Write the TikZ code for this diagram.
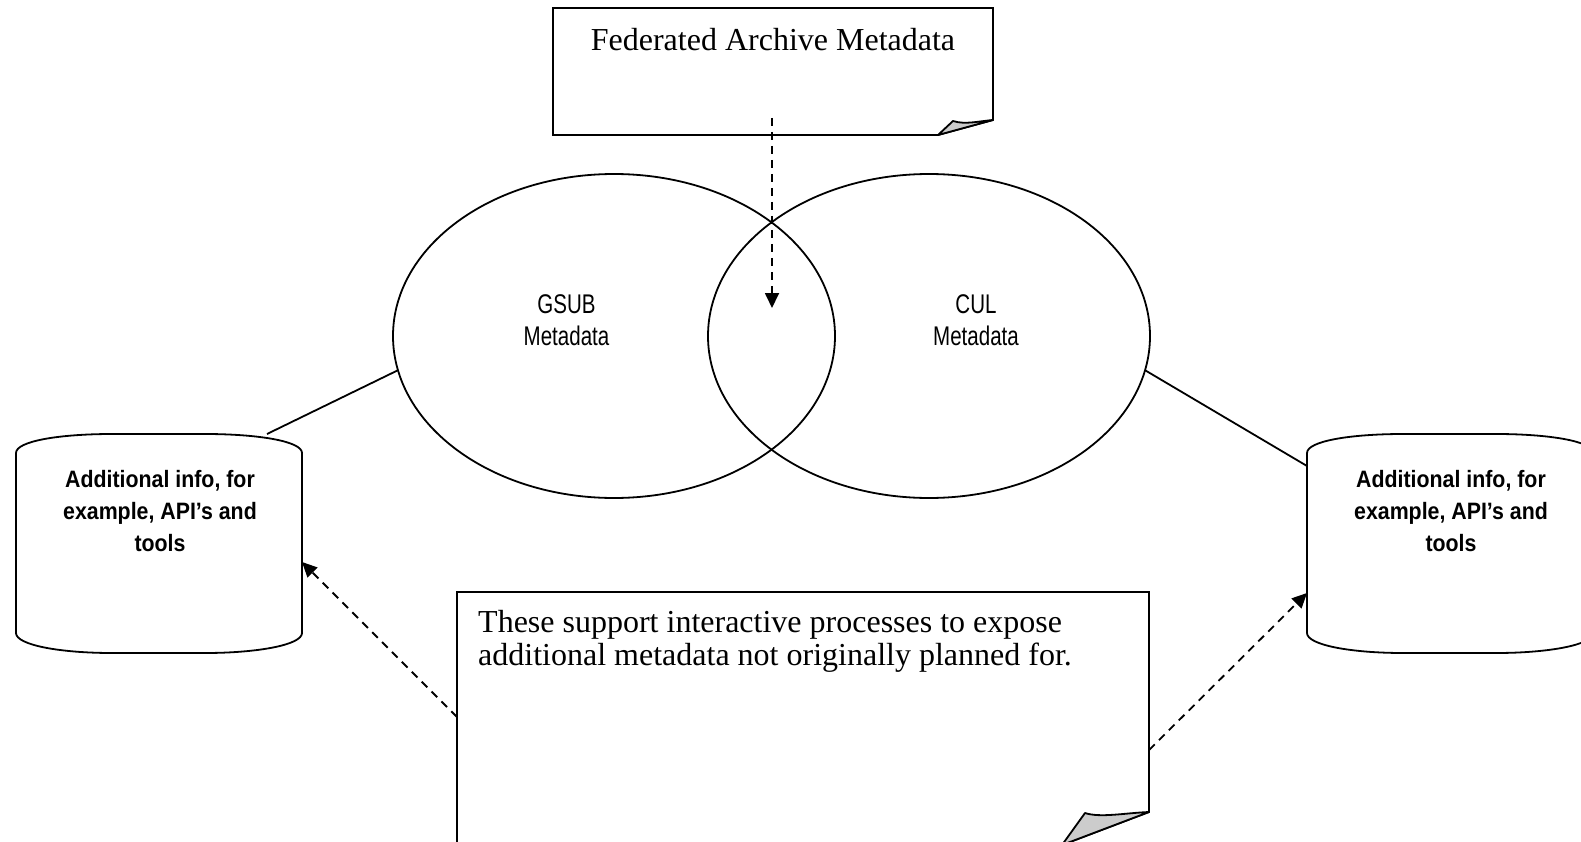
\documentclass[tikz,border=0pt]{standalone}
\usepackage{fontspec}
\setmainfont{Liberation Serif}
\newfontfamily\labelfont[FakeStretch=0.76]{Liberation Sans}
\newfontfamily\cylfont[FakeStretch=0.9]{Liberation Sans}
\usetikzlibrary{shapes.geometric,arrows.meta}
\definecolor{flapgray}{RGB}{204,204,204}

% outline of a drum-shaped store, left side at x=16
\newcommand\drumoutline{%
  (16,453) .. controls (16,441) and (60,434) .. (112,434) -- (205,434)
  .. controls (257,434) and (302,441) .. (302,453) -- (302,633)
  .. controls (302,645) and (257,653) .. (205,653) -- (112,653)
  .. controls (60,653) and (16,645) .. (16,633) -- cycle}

\tikzset{
  outline/.style={draw=black, line width=1.8pt, line join=miter},
  flap/.style={draw=black, fill=flapgray, line width=1.8pt, line join=round},
  venn/.style={ellipse, draw=black, line width=1.8pt, minimum width=442pt,
    minimum height=324pt, inner sep=0pt, outer sep=0pt},
  serifline/.style={font=\fontsize{32}{33}\selectfont, inner sep=0pt, anchor=base},
  vennlabel/.style={font=\labelfont\fontsize{27}{32}\selectfont, inner sep=0pt, anchor=base},
  drumtext/.style={font=\cylfont\bfseries\fontsize{23.7}{32}\selectfont, inner sep=0pt, anchor=base},
  link/.style={draw=black, line width=1.8pt},
  dasharrow/.style={draw=black, line width=1.8pt, dash pattern=on 8pt off 6pt,
    -{Triangle[length=15pt,width=14pt]}},
}

\begin{document}
\begin{tikzpicture}[x=1pt,y=-1pt]
\useasboundingbox (0,0) rectangle (1581,842);
\clip (0,0) rectangle (1581,842);

% note card at the top with its folded corner
\draw[outline] (553,8) -- (993,8) -- (993,120) -- (938,135) -- (553,135) -- cycle;
\draw[flap] (938,135) -- (953,121) .. controls (965,125) and (980,121) .. (993,120) -- cycle;
\node[serifline] (fedtitle) at (773,51) {Federated Archive Metadata};
\coordinate (fedsrc) at (772,118);

% the two overlapping metadata sets
\node[venn] (gsub) at (614,336) {};
\node[venn] (cul) at (929,336) {};
\node[vennlabel] (gsubA) at (566.5,313) {GSUB};
\node[vennlabel] (gsubB) at (566.5,345) {Metadata};
\node[vennlabel] (culA) at (976,313) {CUL};
\node[vennlabel] (culB) at (976,345) {Metadata};
\coordinate (overlap) at (772,308);

% left store
\draw[outline] \drumoutline;
\node[drumtext] (leftA) at (160,487) {Additional info, for};
\node[drumtext] (leftB) at (160,519) {example, API’s and};
\node[drumtext] (leftC) at (160,551) {tools};
\coordinate (leftTop) at (267,434);
\coordinate (leftSide) at (302,562);

% right store
\begin{scope}[shift={(1291,0)}]
  \draw[outline] \drumoutline;
\end{scope}
\node[drumtext] (rightA) at (1451,487) {Additional info, for};
\node[drumtext] (rightB) at (1451,519) {example, API’s and};
\node[drumtext] (rightC) at (1451,551) {tools};
\coordinate (rightTop) at (1307,466);
\coordinate (rightSide) at (1307,593);

% note card at the bottom
\draw[outline] (457,592) -- (1149,592) -- (1149,812) -- (1062,845) -- (457,845) -- cycle;
\draw[flap] (1062,845) -- (1085,813) .. controls (1100,818) and (1125,813) .. (1149,812) -- cycle;
\node[serifline, anchor=base west] (noteA) at (478,632) {These support interactive processes to expose};
\node[serifline, anchor=base west] (noteB) at (478,665) {additional metadata not originally planned for.};
\coordinate (noteLeft) at (457,717);
\coordinate (noteRight) at (1149,750);

% connectors
\draw[link] (leftTop) -- (gsub.189);
\draw[link] (cul.351) -- (rightTop);
\draw[dasharrow] (fedsrc) -- (overlap);
\draw[dasharrow] (noteLeft) -- (leftSide);
\draw[dasharrow] (noteRight) -- (rightSide);
\end{tikzpicture}
\end{document}
